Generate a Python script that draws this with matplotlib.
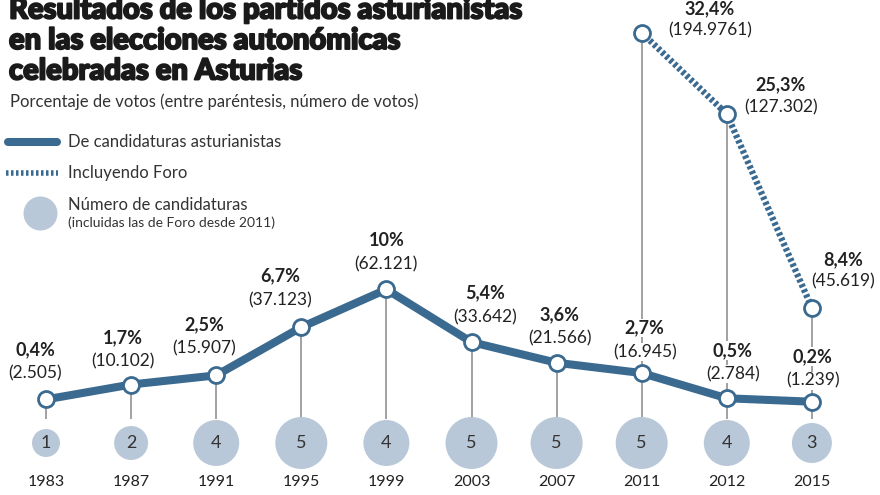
import matplotlib
matplotlib.use("Agg")
import matplotlib.pyplot as plt
from matplotlib.lines import Line2D
import matplotlib.patheffects as pe

years = ["1983", "1987", "1991", "1995", "1999", "2003", "2007", "2011", "2012", "2015"]
pct_main = [0.4, 1.7, 2.5, 6.7, 10, 5.4, 3.6, 2.7, 0.5, 0.2]
votes_main = ["2.505", "10.102", "15.907", "37.123", "62.121", "33.642", "21.566", "16.945", "2.784", "1.239"]
foro_years = ["2011", "2012", "2015"]
pct_foro = [32.4, 25.3, 8.4]
votes_foro = ["194.9761", "127.302", "45.619"]
candidaturas = [1, 2, 4, 5, 4, 5, 5, 5, 4, 3]

# layout (pixel offsets of the label pairs relative to their point)
off_main = [(-11, 26), (-8, 23), (-12, 27), (-21, 27), (0, 25), (14, 25), (3, 24), (3, 21), (6, 24), (1, 21)]
off_foro = [(68, 2), (54, 7), (31, 26)]

FONT = "Lato"
DARK = "#3b6a90"
CIRC = "#b9c8d8"
STEM = "#9a9a9a"
TXT = "#222222"

W, H = 880, 495
fig = plt.figure(figsize=(W / 100, H / 100), dpi=100)
ax = fig.add_axes([0, 0, 1, 1])
ax.axis("off")
step = 85.1
x0 = 46
ax.set_xlim(-x0 / step, (W - x0) / step)
ppv = 11.46  # pixels per percent
zero_px = 404
ax.set_ylim(-(H - zero_px) / ppv, zero_px / ppv)

xs = list(range(len(years)))
xf = [years.index(y) for y in foro_years]

def fmt(v):
    return f"{v:g}".replace(".", ",") + "%"

# stems
stem_bottom = -1.3
tops = list(pct_main)
for i, v in zip(xf, pct_foro):
    tops[i] = max(tops[i], v)
ax.vlines(xs, stem_bottom, tops, color=STEM, lw=1.3, zorder=1)

# candidaturas circles
sizes = [((11 + 3 * n) * 0.72 * 2) ** 2 for n in candidaturas]
circ_y = -(443 - zero_px) / ppv
ax.scatter(xs, [circ_y] * len(xs), s=sizes, color=CIRC, zorder=2, linewidths=0)
for x, n in zip(xs, candidaturas):
    ax.text(x, circ_y, str(n), ha="center", va="center", fontsize=13, color="#333333",
            family=FONT, zorder=3)
year_y = -(482 - zero_px) / ppv
for x, y in zip(xs, years):
    ax.text(x, year_y, y, ha="center", va="center", fontsize=11.5, color=TXT, family=FONT)

# lines
ax.plot(xf, pct_foro, color=DARK, lw=4.6, ls=(0, (0.5, 0.38)), dash_capstyle="butt",
        solid_capstyle="butt", zorder=3)
ax.plot(xs, pct_main, color=DARK, lw=5.8, solid_capstyle="round", zorder=4)
ax.plot(xs, pct_main, ls="none", marker="o", ms=11.5, mfc="white", mec=DARK, mew=2.0, zorder=5)
ax.plot(xf, pct_foro, ls="none", marker="o", ms=11.5, mfc="white", mec=DARK, mew=2.0, zorder=5)

box = dict(boxstyle="square,pad=0.05", fc="white", ec="none")

def labels(xv, yv, votes, offs, gap):
    for x, v, n, (dx, dy) in zip(xv, yv, votes, offs):
        ax.annotate(f"({n})", (x, v), xytext=(dx, dy), textcoords="offset pixels",
                    ha="center", va="center", fontsize=12.5, color=TXT, family=FONT, zorder=6,
                    bbox=box)
        ax.annotate(fmt(v), (x, v), xytext=(dx, dy + gap), textcoords="offset pixels",
                    ha="center", va="center", fontsize=13, fontweight="bold", color=TXT,
                    family=FONT, zorder=6, bbox=box)

labels(xs, pct_main, votes_main, off_main, 24)
labels(xf, pct_foro, votes_foro, off_foro, 22)

# overlay in pixel coordinates for title and legend
ov = fig.add_axes([0, 0, 1, 1], facecolor="none")
ov.set_xlim(0, W)
ov.set_ylim(H, 0)
ov.axis("off")

title_lines = ["Resultados de los partidos asturianistas", "en las elecciones autonómicas",
               "celebradas en Asturias"]
for k, t in enumerate(title_lines):
    ov.text(9, 18.5 + 30.5 * k, t, fontsize=21, fontweight="black", family=FONT,
            color="#1a1a1a", va="baseline", ha="left",
            path_effects=[pe.withStroke(linewidth=1.4, foreground="#1a1a1a")])
ov.text(10, 107, "Porcentaje de votos (entre paréntesis, número de votos)", fontsize=12,
        family=FONT, color="#333333", va="baseline", ha="left")

ov.add_line(Line2D([8, 57], [142, 142], color=DARK, lw=5.8, solid_capstyle="round"))
ov.text(68, 142, "De candidaturas asturianistas", fontsize=12, family=FONT, color="#333333",
        va="center", ha="left")
ov.add_line(Line2D([6, 58], [173, 173], color=DARK, lw=4.0, ls=(0, (0.45, 0.45)),
                   dash_capstyle="butt"))
ov.text(68, 173, "Incluyendo Foro", fontsize=12, family=FONT, color="#333333",
        va="center", ha="left")
ov.scatter([40], [213], s=(17 * 0.72 * 2) ** 2, color=CIRC, linewidths=0)
ov.text(68, 205, "Número de candidaturas", fontsize=12, family=FONT, color="#333333",
        va="center", ha="left")
ov.text(68, 223, "(incluidas las de Foro desde 2011)", fontsize=10, family=FONT,
        color="#333333", va="center", ha="left")

fig.savefig("out.png", dpi=100, facecolor="white")
